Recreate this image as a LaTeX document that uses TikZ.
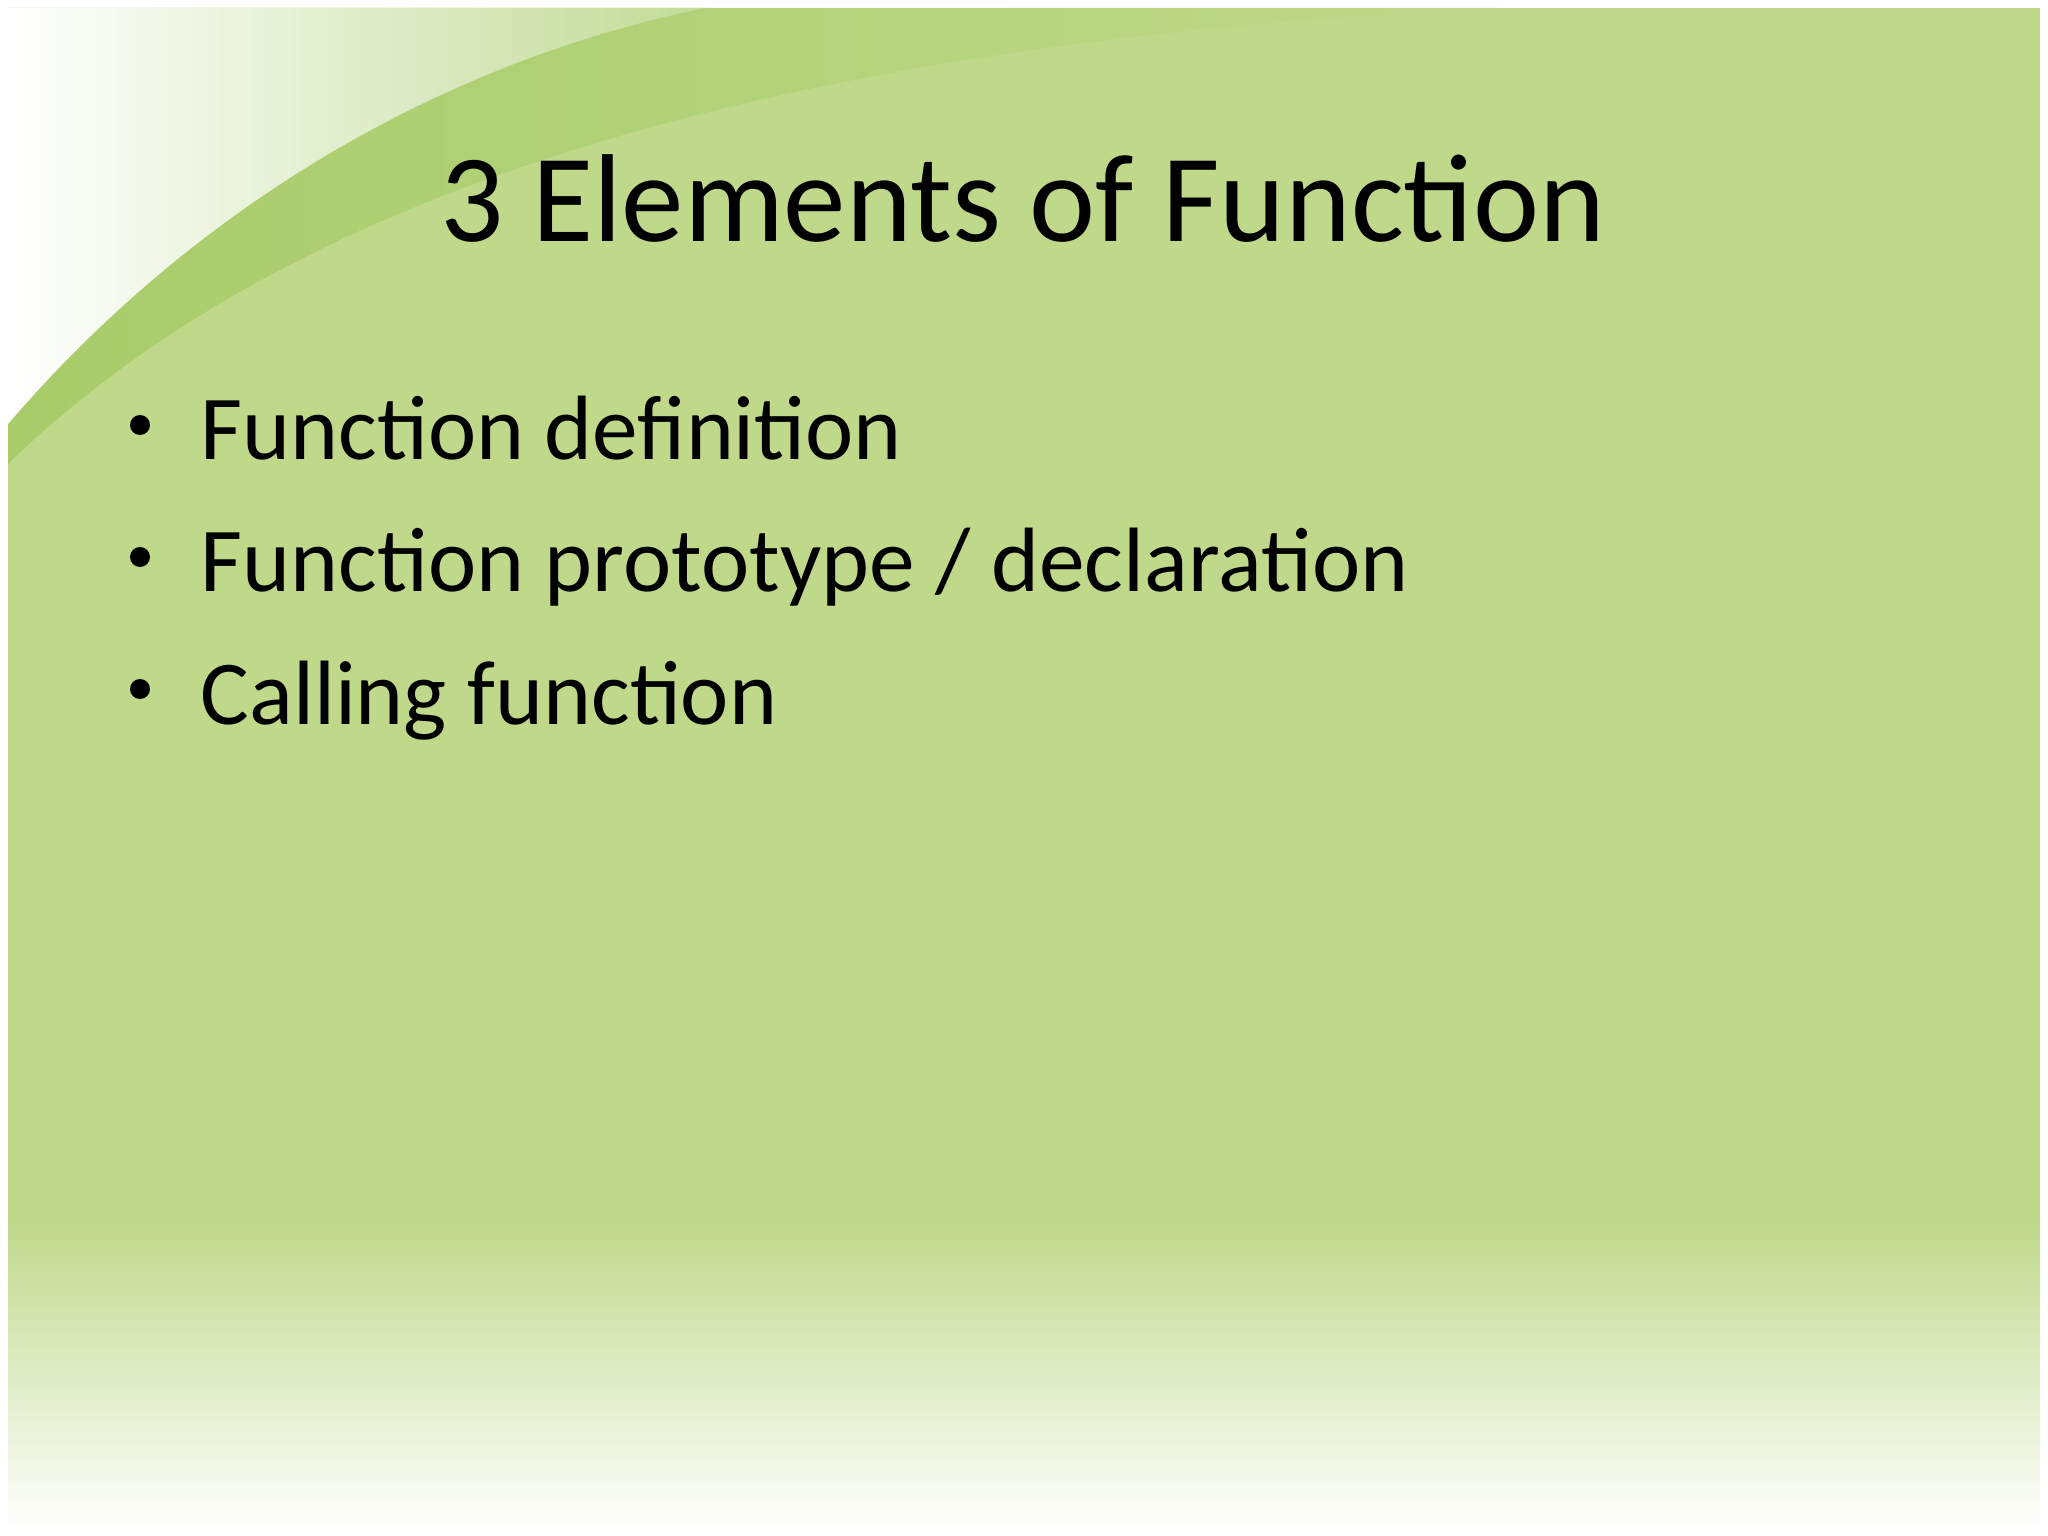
\documentclass[tikz,border=0pt]{standalone}
\usepackage{fontspec}
\setmainfont{Carlito}
\definecolor{slidegreen}{HTML}{C0D88A}
\definecolor{darkgreen}{HTML}{A8CC6A}
\begin{document}
\begin{tikzpicture}
\useasboundingbox (0,0) rectangle (20.48,-15.36);
\fill[white] (0,0) rectangle (20.48,-15.36);
\fill[slidegreen] (0.08,-0.08) rectangle (20.40,-15.28);
% swoosh band
\shade[left color=darkgreen, right color=slidegreen]
  (0.08,-4.64) .. controls (3,-1.8) and (8,-0.4) .. (15.0,-0.08) -- (0.08,-0.08) -- cycle;
\shade[left color=white, right color=darkgreen!70!white]
  (0.08,-4.24) .. controls (2,-2.0) and (4.5,-0.6) .. (7.05,-0.08) -- (0.08,-0.08) -- cycle;
% bottom fade
\shade[top color=slidegreen, bottom color=white] (0.08,-12.2) rectangle (20.40,-15.28);
\node[anchor=base, font=\fontsize{35.6}{42}\selectfont] (title) at (10.23,-2.42) {3 Elements of Function};
\tikzset{bul/.style={anchor=base west, inner sep=0pt, font=\fontsize{26}{31}\selectfont},
  dot/.style={circle, fill=black, inner sep=0pt, minimum size=0.2cm}}
\node[bul] (b1) at (2.0,-4.60) {Function definition};
\node[bul] (b2) at (2.0,-5.92) {Function prototype / declaration};
\node[bul] (b3) at (2.0,-7.24) {Calling function};
\node[dot] (d1) at (1.40,-4.25) {};
\node[dot] (d2) at (1.40,-5.57) {};
\node[dot] (d3) at (1.40,-6.89) {};
\end{tikzpicture}
\end{document}
